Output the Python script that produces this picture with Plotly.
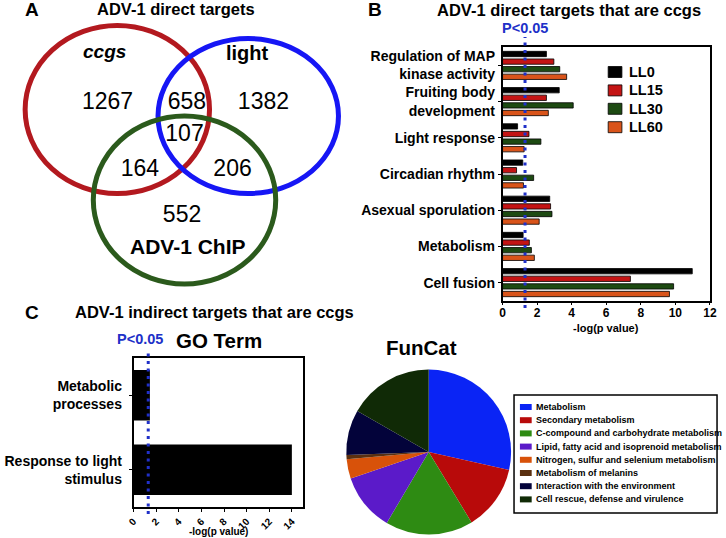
import plotly.graph_objects as go

W, H = 726, 538
FONT = "Liberation Sans"


def px(x):
    return x / W


def py(y):
    return 1 - y / H


# ---------------- data ----------------
# Panel A: Venn diagram counts
venn_sets = ["ccgs", "light", "ADV-1 ChIP"]
venn_counts = [1267, 658, 1382, 107, 164, 206, 552]

# Panel B: ADV-1 direct targets that are ccgs (-log p)
terms_b = [
    "Regulation of MAP<br>kinase activity",
    "Fruiting body<br>development",
    "Light response",
    "Circadian rhythm",
    "Asexual sporulation",
    "Metabolism",
    "Cell fusion",
]
series_b = ["LL0", "LL15", "LL30", "LL60"]
ll0 = [2.54, 3.28, 0.87, 1.17, 2.73, 1.19, 10.98]
ll15 = [2.97, 2.54, 1.53, 0.81, 2.78, 1.55, 7.40]
ll30 = [3.31, 4.09, 2.22, 1.80, 2.86, 1.67, 9.90]
ll60 = [3.71, 2.65, 1.25, 1.21, 2.12, 1.84, 9.66]
ticks_b = [0, 2, 4, 6, 8, 10, 12]

# Panel C: GO term, indirect targets
terms_c = ["Metabolic<br>processes", "Response to light<br>stimulus"]
vals_c = [1.45, 14.0]
ticks_c = [0, 2, 4, 6, 8, 10, 12, 14]

# Panel C: FunCat pie (% of genes)
funcat_labels = [
    "Metabolism",
    "Secondary metabolism",
    "C-compound and carbohydrate metabolism",
    "Lipid, fatty acid and isoprenoid metabolism",
    "Nitrogen, sulfur and selenium metabolism",
    "Metabolism of melanins",
    "Interaction with the environment",
    "Cell rescue, defense and virulence",
]
funcat_values = [28.5, 12.8, 17.2, 11.3, 3.8, 0.8, 8.9, 16.7]

p_threshold = 1.301  # -log10(0.05)

# ---------------- styles ----------------
venn_colors = ["#b3191f", "#1616f5", "#2b5a1c"]
bar_colors = ["#000000", "#c41414", "#1d4a12", "#d9541a"]
pie_colors = ["#0a24f5", "#b80a0a", "#2e8b13", "#5b1ac9",
              "#d8520a", "#5a3010", "#03033a", "#102a06"]
pblue = "#2030c8"

fig = go.Figure()

# ---- Panel B bars ----
for name, vals, col in zip(series_b, [ll0, ll15, ll30, ll60], bar_colors):
    fig.add_trace(go.Bar(
        y=terms_b, x=vals, name=name, orientation="h",
        xaxis="x", yaxis="y",
        marker=dict(color=col, line=dict(color="black", width=0.8)),
        showlegend=False,
    ))

# ---- Panel C bars ----
fig.add_trace(go.Bar(
    y=terms_c, x=vals_c, orientation="h", xaxis="x2", yaxis="y2",
    width=0.68, marker=dict(color="black", line=dict(width=0)),
    showlegend=False,
))

# ---- Pie ----
fig.add_trace(go.Pie(
    labels=funcat_labels, values=funcat_values, sort=False,
    direction="clockwise", rotation=0, textinfo="none",
    marker=dict(colors=pie_colors, line=dict(width=0)),
    domain=dict(x=[px(430 - 84), px(430 + 84)], y=[py(452 + 84), py(452 - 84)]),
    showlegend=False,
))

# ---- Venn counts (text trace on pixel-like axes) ----
venn_pos_x = [102.5, 183.5, 261.5, 181, 135.5, 230, 178.5]
venn_pos_y = [103.5, 103.5, 103.5, 135, 170, 170, 216]
fig.add_trace(go.Scatter(
    x=venn_pos_x, y=venn_pos_y, text=[str(c) for c in venn_counts],
    mode="text", xaxis="x3", yaxis="y3", hoverinfo="skip",
    textfont=dict(size=23, color="black", family=FONT),
    showlegend=False,
))

shapes = []
# Venn circles
venn_geom = [(112.5, 109.5, 94, 84), (246, 116, 92, 77.5), (181, 200, 93, 84)]
for (cx, cy, rx, ry), col in zip(venn_geom, venn_colors):
    shapes.append(dict(type="circle", xref="x3", yref="y3",
                       x0=cx - rx, x1=cx + rx, y0=cy - ry, y1=cy + ry,
                       line=dict(color=col, width=5)))

# P<0.05 dotted lines
shapes.append(dict(type="line", xref="x", yref="paper", x0=p_threshold, x1=p_threshold,
                   y0=py(308), y1=py(37), line=dict(color=pblue, width=3, dash="3px,4.5px")))
shapes.append(dict(type="line", xref="x2", yref="paper", x0=p_threshold, x1=p_threshold,
                   y0=py(514), y1=py(351), line=dict(color=pblue, width=3, dash="3px,4.5px")))

annotations = []


def ann(text, x, y, size, color="black", xanchor="center", **kw):
    annotations.append(dict(text=text, x=px(x), y=py(y), xref="paper", yref="paper",
                            showarrow=False, xanchor=xanchor, yanchor="middle",
                            font=dict(size=size, color=color, family=FONT), **kw))


# Panel letters and titles
ann("<b>A</b>", 25, 10, 19)
ann("<b>B</b>", 375, 10, 19)
ann("<b>C</b>", 25, 312, 19)
ann("<b>ADV-1 direct targets</b>", 172, 9, 16.5)
ann("<b>ADV-1 direct targets that are ccgs</b>", 573, 10, 16.5)
ann("<b>ADV-1 indirect targets that are ccgs</b>", 212, 312, 16.5)
ann("<b>GO Term</b>", 216, 340, 20.5)
ann("<b>FunCat</b>", 423, 347, 20.5)
ann("<b>P&lt;0.05</b>", 528.5, 28, 14.5, color=pblue)
ann("<b>P&lt;0.05</b>", 136, 339, 14.5, color=pblue)
ann("<b>-log(p value)</b>", 611, 328, 11)
ann("<b>-log(p value)</b>", 216, 531, 10)

# Venn set labels
ann("<b><i>ccgs</i></b>", 99, 52, 19)
ann("<b>light</b>", 245, 53, 20)
ann("<b>ADV-1 ChIP</b>", 185, 246.5, 21)

# Panel B legend (manual, compact)
for i, (name, col) in enumerate(zip(series_b, bar_colors)):
    yc = 72 + i * 18.4
    shapes.append(dict(type="rect", xref="paper", yref="paper",
                       x0=px(613), x1=px(627), y0=py(yc + 5.5), y1=py(yc - 5.5),
                       fillcolor=col, line=dict(color="black", width=0.8)))
    ann("<b>%s</b>" % name, 632, yc, 14.5, xanchor="left")

# Pie legend (manual, compact)
shapes.append(dict(type="rect", xref="paper", yref="paper",
                   x0=px(517), x1=px(724), y0=py(513), y1=py(395),
                   line=dict(color="black", width=1.5)))
for i, (lab, col) in enumerate(zip(funcat_labels, pie_colors)):
    yc = 407 + i * 13.2
    shapes.append(dict(type="rect", xref="paper", yref="paper",
                       x0=px(523), x1=px(535), y0=py(yc + 3), y1=py(yc - 3),
                       fillcolor=col, line=dict(width=0)))
    ann("<b>%s</b>" % lab, 537, yc, 9, xanchor="left")

axis_common = dict(showline=True, linecolor="black", linewidth=1.5, mirror=True,
                   showgrid=False, zeroline=False, ticks="outside", tickcolor="black")

fig.update_layout(
    width=W, height=H, autosize=False,
    margin=dict(l=0, r=0, t=0, b=0),
    paper_bgcolor="white", plot_bgcolor="white",
    font=dict(family=FONT, color="black"),
    barmode="group", bargap=0.16, bargroupgap=0.3,
    xaxis=dict(domain=[px(505.3), px(716.7)], range=[0, 12], tickvals=ticks_b,
               ticklen=3, tickwidth=1, ticklabelstandoff=-3,
               tickfont=dict(size=12, weight="bold"), anchor="y", **axis_common),
    yaxis=dict(domain=[py(300.7), py(47.3)], type="category", autorange="reversed",
               ticklen=3, tickwidth=1,
               tickfont=dict(size=14, weight="bold"), anchor="x", **axis_common),
    xaxis2=dict(domain=[px(129), px(302)], range=[0, 15], tickvals=ticks_c,
                tickangle=-45, ticklen=3, tickwidth=1,
                tickfont=dict(size=10, weight="bold"), anchor="y2", **axis_common),
    yaxis2=dict(domain=[py(507), py(358)], type="category", autorange="reversed",
                ticklen=3, tickwidth=1, ticklabelstandoff=4,
                tickfont=dict(size=14, weight="bold"), anchor="x2", **axis_common),
    xaxis3=dict(domain=[0, px(360)], range=[0, 360], visible=False, anchor="y3"),
    yaxis3=dict(domain=[py(300), 1], range=[300, 0], visible=False, anchor="x3"),
    shapes=shapes,
    annotations=annotations,
)

fig.write_html("out.html", config={"displayModeBar": False},
               post_script="document.body.style.margin='0';document.body.style.overflow='hidden';")
